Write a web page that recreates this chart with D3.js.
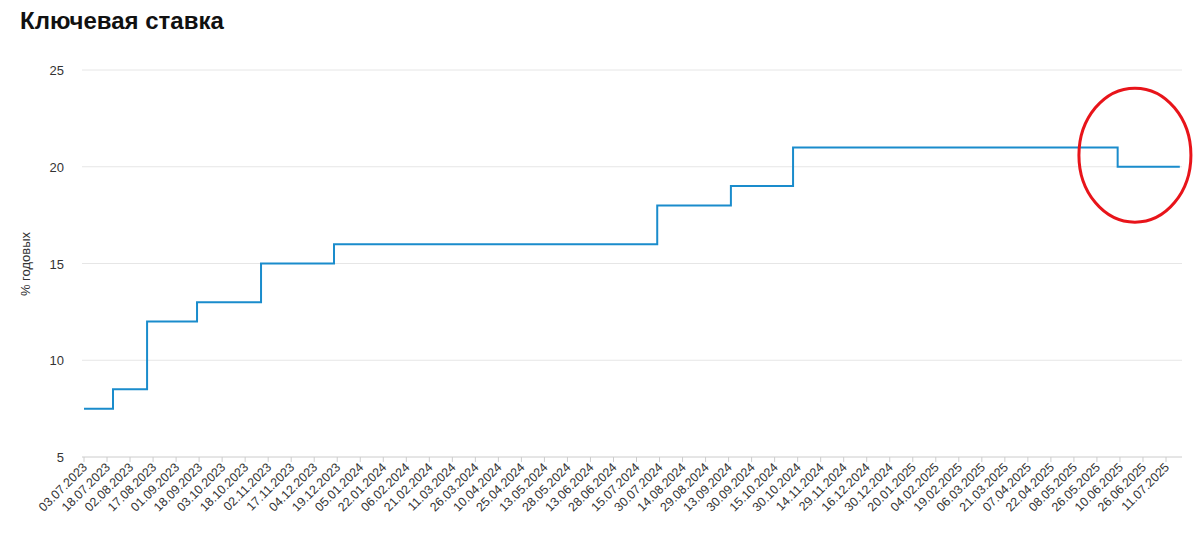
<!DOCTYPE html>
<html><head><meta charset="utf-8">
<script src="https://cdn.jsdelivr.net/npm/d3@7.9.0/dist/d3.min.js"></script>
<style>
body{margin:0;background:#fff;font-family:"Liberation Sans",Arial,sans-serif}
</style></head>
<body><svg width="1200" height="533"></svg>
<script>
const tickLabels = ['03.07.2023','18.07.2023','02.08.2023','17.08.2023','01.09.2023','18.09.2023','03.10.2023','18.10.2023','02.11.2023','17.11.2023','04.12.2023','19.12.2023','05.01.2024','22.01.2024','06.02.2024','21.02.2024','11.03.2024','26.03.2024','10.04.2024','25.04.2024','13.05.2024','28.05.2024','13.06.2024','28.06.2024','15.07.2024','30.07.2024','14.08.2024','29.08.2024','13.09.2024','30.09.2024','15.10.2024','30.10.2024','14.11.2024','29.11.2024','16.12.2024','30.12.2024','20.01.2025','04.02.2025','19.02.2025','06.03.2025','21.03.2025','07.04.2025','22.04.2025','08.05.2025','26.05.2025','10.06.2025','26.06.2025','11.07.2025'];
// step positions in units of tick index, and the rate from that point on
const stepPos = [0, 1.26, 2.74, 4.91, 7.69, 10.86, 24.9, 28.1, 30.8, 44.9];
const stepRate = [7.5, 8.5, 12, 13, 15, 16, 18, 19, 21, 20];
const endPos = 47.6;
const yTicks = [5, 10, 15, 20, 25];

const svg = d3.select('svg');
const x = d3.scaleLinear().domain([0, tickLabels.length - 1]).range([84, 1166]);
const y = d3.scaleLinear().domain([5, 25]).range([457, 70]);

svg.append('text').attr('x', 20).attr('y', 29).attr('font-size', 24).attr('font-weight', 'bold')
  .attr('fill', '#111').text('Ключевая ставка');

// grid + y labels
yTicks.forEach(t => {
  svg.append('line').attr('x1', 82).attr('x2', 1182).attr('y1', y(t)).attr('y2', y(t))
    .attr('stroke', t === 5 ? '#ccc' : '#e6e6e6');
  svg.append('text').attr('x', 64).attr('y', y(t) + 5).attr('text-anchor', 'end')
    .attr('font-size', 13).attr('fill', '#333').text(t);
});
svg.append('text').attr('transform', 'translate(30,264) rotate(-90)').attr('text-anchor', 'middle')
  .attr('font-size', 13).attr('fill', '#333').text('% годовых');

// x labels
tickLabels.forEach((l, i) => {
  svg.append('line').attr('x1', x(i)).attr('x2', x(i)).attr('y1', 457).attr('y2', 462).attr('stroke', '#ccc');
  svg.append('text').attr('transform', `translate(${x(i) + 4},468) rotate(-45)`).attr('text-anchor', 'end')
    .attr('font-size', 12.5).attr('fill', '#333').text(l);
});

// step line
const pts = stepPos.map((p, i) => [p, stepRate[i]]);
pts.push([endPos, stepRate[stepRate.length - 1]]);
const line = d3.line().x(d => x(d[0])).y(d => y(d[1])).curve(d3.curveStepAfter);
svg.append('path').attr('d', line(pts)).attr('fill', 'none').attr('stroke', '#1a8ccc').attr('stroke-width', 2);

// red highlight ellipse
svg.append('ellipse').attr('cx', x(45.65)).attr('cy', y(20.6)).attr('rx', 56).attr('ry', 67)
  .attr('fill', 'none').attr('stroke', '#e8141a').attr('stroke-width', 3);
</script></body></html>
